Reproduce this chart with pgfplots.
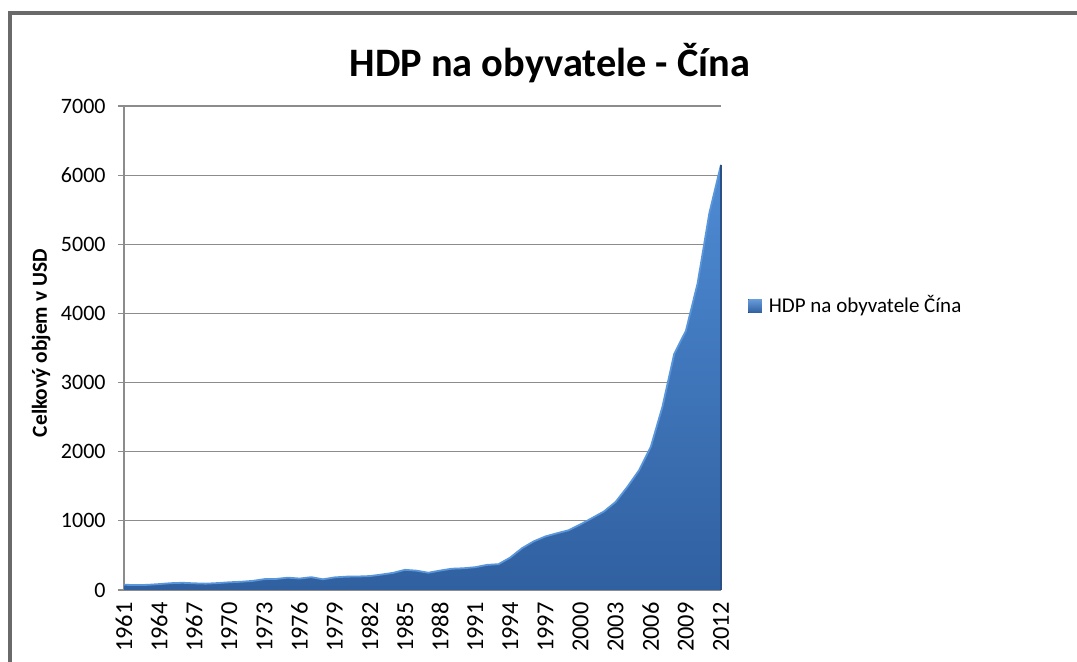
\documentclass[border=0pt]{standalone}
\usepackage{pgfplots}
\pgfplotsset{compat=1.18}
\usepackage{pgfplotstable}
\usepackage{fontspec}
\setmainfont{Carlito}
\definecolor{areatop}{HTML}{4E8BD4}
\definecolor{areabot}{HTML}{3060A0}
\definecolor{areaedge}{HTML}{5A96DA}
\definecolor{arearim}{HTML}{2A5084}
\definecolor{gridc}{HTML}{8C8C8C}
\definecolor{framec}{HTML}{6A6A6A}
\pgfplotstableread{
year gdp
1961 75.8
1962 70.9
1963 74.3
1964 85.5
1965 98.5
1966 104.3
1967 96.6
1968 91.5
1969 100.1
1970 111.8
1971 118.7
1972 131.9
1973 157.1
1974 160.1
1975 178.3
1976 165.4
1977 185.4
1978 155.1
1979 182.3
1980 193.0
1981 195.3
1982 201.4
1983 223.3
1984 248.3
1985 291.8
1986 279.2
1987 249.4
1988 280.8
1989 307.6
1990 314.4
1991 329.7
1992 362.8
1993 373.8
1994 469.2
1995 604.2
1996 703.1
1997 774.5
1998 820.9
1999 864.7
2000 949.2
2001 1041.6
2002 1135.4
2003 1273.6
2004 1490.4
2005 1731.1
2006 2069.3
2007 2651.3
2008 3413.6
2009 3748.5
2010 4433.3
2011 5447.3
2012 6150.0
}\gdpdata
\begin{document}
\begin{tikzpicture}
\path[use as bounding box] (0,0) rectangle (538.5pt,331pt);
\draw[framec, line width=1.6pt] (5pt,-2pt) -- (5pt,324.5pt) -- (540pt,324.5pt);
\begin{axis}[
  at={(62pt,36pt)}, anchor=south west,
  scale only axis,
  width=298.5pt, height=242pt,
  xmin=1961, xmax=2012,
  ymin=0, ymax=7000,
  xtick={1961,1964,...,2012},
  ytick={0,1000,...,7000},
  /pgf/number format/1000 sep={},
  /pgf/number format/assume math mode=true,
  axis x line*=bottom, axis y line*=left,
  axis line style={draw=gridc, line width=0.6pt, -},
  ymajorgrids, grid style={draw=gridc, line width=0.6pt},
  tick align=outside, major tick length=3pt,
  ytick style={draw=gridc, line width=0.6pt},
  xtick style={draw=none},
  ytick pos=left,
  tick label style={font=\fontsize{11}{13}\selectfont, text=black},
  xticklabel style={rotate=90, anchor=east, inner xsep=3pt, inner ysep=0pt, font=\fontsize{12.2}{14}\selectfont},
  yticklabel style={anchor=east, inner sep=0pt, xshift=-6pt},
  title={HDP na obyvatele - Čína},
  title style={at={(rel axis cs:0.7136,1.037)}, anchor=base, font=\fontsize{20.2}{24}\selectfont\bfseries, inner sep=0pt},
  ylabel={Celkový objem v USD},
  ylabel style={at={(rel axis cs:-0.129,0.51)}, anchor=base, font=\fontsize{10.7}{13}\selectfont\bfseries, inner sep=0pt},
  legend style={at={(rel axis cs:1.045,0.587)}, anchor=west, draw=none, fill=none,
    font=\fontsize{10.5}{12.5}\selectfont, inner sep=0pt, column sep=3.5pt,
    nodes={inner sep=0pt}},
  legend cell align=left,
  legend image code/.code={\fill[top color=areatop!85!white, bottom color=areabot] (0pt,-3.4pt) rectangle (6.8pt,3.4pt);},
  clip=false,
]
\addplot[draw=none, top color=areatop, bottom color=areabot] table[x=year,y=gdp] {\gdpdata} \closedcycle;
\addlegendentry{HDP na obyvatele Čína}
\addplot[forget plot, color=areaedge, line width=0.9pt] table[x=year,y=gdp] {\gdpdata};
\addplot[forget plot, color=arearim, line width=0.9pt] coordinates {(2012,0) (2012,6150)};
\end{axis}
\end{tikzpicture}
\end{document}
